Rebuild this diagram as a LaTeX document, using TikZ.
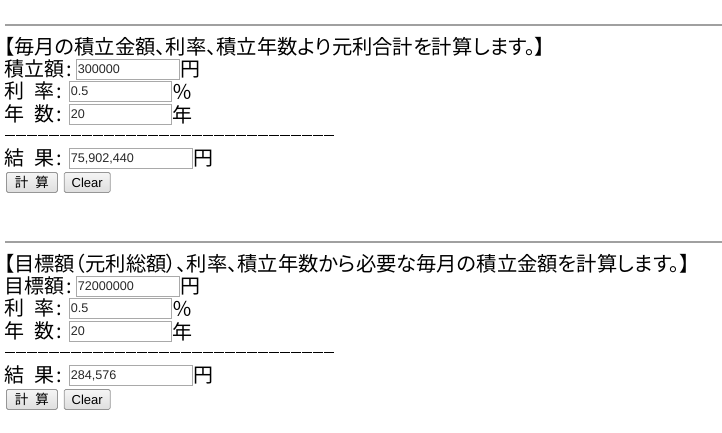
\documentclass[tikz,border=0pt]{standalone}
\usepackage{fontspec}
\setmainfont{Liberation Sans}
\newfontfamily\jpfont{Noto Sans CJK JP}
\newfontfamily\jptitlefont[RawFeature=+palt]{Noto Sans CJK JP}
\usetikzlibrary{positioning}

\definecolor{rulegray}{RGB}{160,160,160}
\definecolor{boxgray}{RGB}{169,169,169}
\definecolor{valgray}{RGB}{40,40,40}
\definecolor{btnborder}{RGB}{150,150,150}
\definecolor{btntop}{RGB}{245,245,245}
\definecolor{btnbot}{RGB}{222,222,222}

\tikzset{
 hrule/.style={draw=rulegray,line width=1.2pt},
 sepline/.style={draw=black,line width=1.1pt,dash pattern=on 10pt off 1pt},
 title/.style={anchor=west,inner sep=0pt,font=\jptitlefont\fontsize{20.3}{22}\selectfont},
 label/.style={anchor=west,inner sep=0pt,font=\jpfont\fontsize{20}{22}\selectfont},
 unit/.style={right=0pt of #1,inner sep=0pt,font=\jpfont\fontsize{20}{22}\selectfont},
 inbox/.style={draw=boxgray,fill=white,line width=0.9pt,anchor=north west,
   minimum height=20pt,inner xsep=1.5pt,inner ysep=0pt,text width=#1,align=left,
   text=valgray,font=\fontsize{12.6}{14}\selectfont},
 button/.style={draw=btnborder,top color=btntop,bottom color=btnbot,line width=0.8pt,
   rounded corners=1.5pt,anchor=north west,minimum height=20pt,inner ysep=0pt}
}

\begin{document}
\begin{tikzpicture}[x=1pt,y=-1pt]
 \useasboundingbox (0,0) rectangle (722,432);

 % first form
 \coordinate (hr_a) at (5,25);
 \draw[hrule] (hr_a) -- ++(717,0);
 \node[title] (title_a) at (4,46.5) {【毎月の積立金額、利率、積立年数より元利合計を計算します。】};
 \node[label] (lamt_a) at (4,69) {積立額\kern2pt:};
 \node[inbox=100pt] (amt_a) at (76,59) {300000};
 \node[unit=amt_a] (uamt_a) {円};
 \node[label] (lrate_a) at (4,91) {利\hspace{10pt}率\kern2pt:};
 \node[inbox=99pt] (rate_a) at (69,81) {0.5};
 \node[unit=rate_a] (urate_a) {％};
 \node[label] (lyear_a) at (4,114) {年\hspace{10pt}数\kern2pt:};
 \node[inbox=99pt] (year_a) at (69,104) {20};
 \node[unit=year_a] (uyear_a) {年};
 \coordinate (sep_a) at (5,135.5);
 \draw[sepline] (sep_a) -- ++(330,0);
 \node[label] (lres_a) at (4,158) {結\hspace{10pt}果\kern2pt:};
 \node[inbox=120pt] (res_a) at (69,148) {75,902,440};
 \node[unit=res_a] (ures_a) {円};
 \node[button,minimum width=51pt,font=\jpfont\fontsize{13.5}{15}\selectfont] (calc_a) at (6,172) {計\hspace{7pt}算};
 \node[button,minimum width=46pt,font=\fontsize{13}{15}\selectfont,right=6pt of calc_a] (clear_a) {Clear};

 % second form
 \coordinate (hr_b) at (5,242);
 \draw[hrule] (hr_b) -- ++(717,0);
 \node[title] (title_b) at (4,263.5) {【目標額（元利総額）、利率、積立年数から必要な毎月の積立金額を計算します。】};
 \node[label] (lamt_b) at (4,286) {目標額\kern2pt:};
 \node[inbox=100pt] (amt_b) at (76,276) {72000000};
 \node[unit=amt_b] (uamt_b) {円};
 \node[label] (lrate_b) at (4,308) {利\hspace{10pt}率\kern2pt:};
 \node[inbox=99pt] (rate_b) at (69,298) {0.5};
 \node[unit=rate_b] (urate_b) {％};
 \node[label] (lyear_b) at (4,331) {年\hspace{10pt}数\kern2pt:};
 \node[inbox=99pt] (year_b) at (69,321) {20};
 \node[unit=year_b] (uyear_b) {年};
 \coordinate (sep_b) at (5,352.5);
 \draw[sepline] (sep_b) -- ++(330,0);
 \node[label] (lres_b) at (4,375) {結\hspace{10pt}果\kern2pt:};
 \node[inbox=120pt] (res_b) at (69,365) {284,576};
 \node[unit=res_b] (ures_b) {円};
 \node[button,minimum width=51pt,font=\jpfont\fontsize{13.5}{15}\selectfont] (calc_b) at (6,389) {計\hspace{7pt}算};
 \node[button,minimum width=46pt,font=\fontsize{13}{15}\selectfont,right=6pt of calc_b] (clear_b) {Clear};
\end{tikzpicture}
\end{document}
